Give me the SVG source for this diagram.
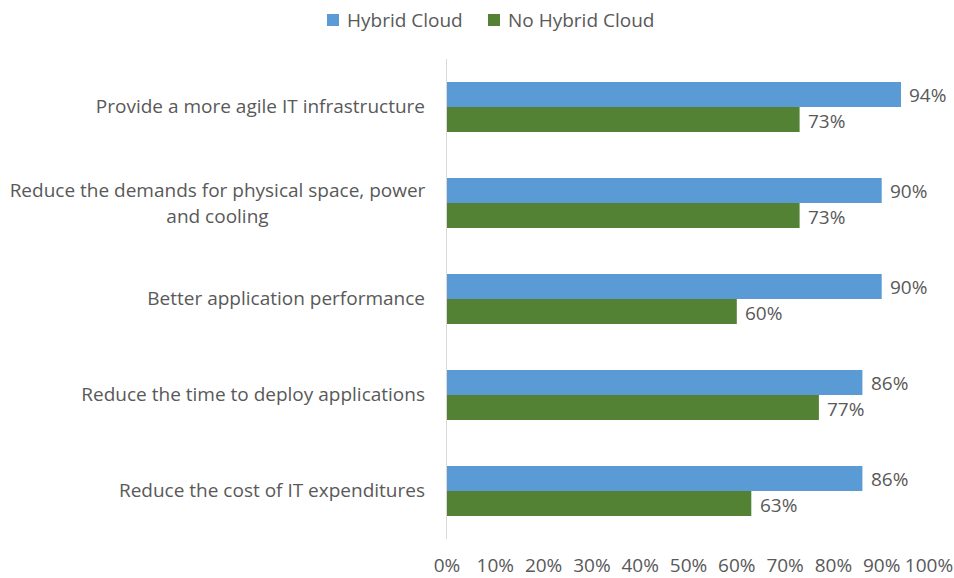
<svg xmlns="http://www.w3.org/2000/svg" width="954" height="578" viewBox="0 0 954 578">
<style>
text{font-family:"Open Sans","Liberation Sans",sans-serif;fill:#595959;font-size:19px}
.cat{text-anchor:end}
.mid{text-anchor:middle}
.tick{text-anchor:middle}
.hy{fill:#5B9BD5}
.no{fill:#548235}
</style>
<rect width="954" height="578" fill="#ffffff"/>
<g id="legend">
<rect class="hy" x="327" y="14" width="12" height="12"/>
<text x="347" y="27">Hybrid Cloud</text>
<rect class="no" x="488" y="14" width="12" height="12"/>
<text x="508" y="27">No Hybrid Cloud</text>
</g>
<g id="axis">
<line x1="446.5" y1="59" x2="446.5" y2="539" stroke="#D9D9D9" stroke-width="1"/>
<text class="tick" x="447" y="572">0%</text>
<text class="tick" x="495.3" y="572">10%</text>
<text class="tick" x="543.6" y="572">20%</text>
<text class="tick" x="591.9" y="572">30%</text>
<text class="tick" x="640.2" y="572">40%</text>
<text class="tick" x="688.5" y="572">50%</text>
<text class="tick" x="736.8" y="572">60%</text>
<text class="tick" x="785.1" y="572">70%</text>
<text class="tick" x="833.4" y="572">80%</text>
<text class="tick" x="881.7" y="572">90%</text>
<text class="tick" x="929" y="572">100%</text>
</g>
<g id="cat1">
<text class="cat" x="425" y="113">Provide a more agile IT infrastructure</text>
<rect class="hy" x="447" y="82" width="454" height="25"/>
<rect class="no" x="447" y="107" width="352.6" height="25"/>
<text x="909" y="102">94%</text>
<text x="808" y="128">73%</text>
</g>
<g id="cat2">
<text class="mid" x="217.5" y="197">Reduce the demands for physical space, power</text>
<text class="mid" x="217.5" y="223">and cooling</text>
<rect class="hy" x="447" y="178" width="434.7" height="25"/>
<rect class="no" x="447" y="203" width="352.6" height="25"/>
<text x="890" y="198">90%</text>
<text x="808" y="224">73%</text>
</g>
<g id="cat3">
<text class="cat" x="425" y="305">Better application performance</text>
<rect class="hy" x="447" y="274" width="434.7" height="25"/>
<rect class="no" x="447" y="299" width="289.8" height="25"/>
<text x="890" y="294">90%</text>
<text x="745" y="320">60%</text>
</g>
<g id="cat4">
<text class="cat" x="425" y="401">Reduce the time to deploy applications</text>
<rect class="hy" x="447" y="370" width="415.4" height="25"/>
<rect class="no" x="447" y="395" width="371.9" height="25"/>
<text x="871" y="390">86%</text>
<text x="827" y="416">77%</text>
</g>
<g id="cat5">
<text class="cat" x="425" y="497">Reduce the cost of IT expenditures</text>
<rect class="hy" x="447" y="466" width="415.4" height="25"/>
<rect class="no" x="447" y="491" width="304.3" height="25"/>
<text x="871" y="486">86%</text>
<text x="760" y="512">63%</text>
</g>
</svg>
